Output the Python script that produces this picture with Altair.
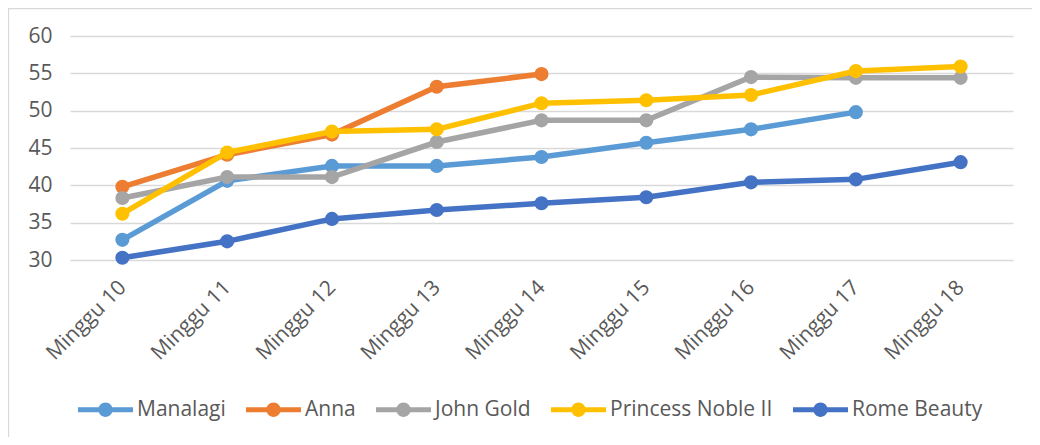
import altair as alt
import pandas as pd

weeks = ["Minggu 10", "Minggu 11", "Minggu 12", "Minggu 13", "Minggu 14",
         "Minggu 15", "Minggu 16", "Minggu 17", "Minggu 18"]
series = ["Manalagi", "Anna", "John Gold", "Princess Noble II", "Rome Beauty"]
colors = ["#5B9BD5", "#ED7D31", "#A5A5A5", "#FFC000", "#4472C4"]

manalagi = [32.7, 40.6, 42.6, 42.6, 43.8, 45.7, 47.5, 49.8]
anna = [39.8, 44.1, 46.8, 53.2, 54.9]
john_gold = [38.3, 41.1, 41.1, 45.8, 48.7, 48.7, 54.5, 54.4, 54.4]
princess = [36.2, 44.4, 47.2, 47.5, 51.0, 51.4, 52.1, 55.3, 55.9]
rome = [30.3, 32.5, 35.5, 36.7, 37.6, 38.4, 40.4, 40.8, 43.1]

rows = []
for i, (name, vals) in enumerate(zip(series, [manalagi, anna, john_gold, princess, rome])):
    for w, v in zip(weeks, vals):
        rows.append({"week": w, "series": name, "value": v, "order": i})
df = pd.DataFrame(rows)

FONT = "Open Sans"
TXT = "#595959"

x = alt.X("week:N", sort=weeks, title=None,
          scale=alt.Scale(padding=0.5),
          axis=alt.Axis(labelAngle=-45, labelAlign="right", labelBaseline="middle",
                        labelPadding=24, ticks=False, domain=False, grid=False,
                        labelFont=FONT, labelFontSize=21, labelColor=TXT))
y = alt.Y("value:Q", title=None,
          scale=alt.Scale(domain=[30, 60], nice=False, zero=False),
          axis=alt.Axis(values=[30, 35, 40, 45, 50, 55, 60], ticks=False, domain=False,
                        gridColor="#D9D9D9", gridWidth=1.3, labelPadding=18,
                        labelFont=FONT, labelFontSize=21, labelColor=TXT))
cscale = alt.Scale(domain=series, range=colors)

legend_path = ("M-1,-0.09H1V0.09H-1Z "
               "M0.26,0A0.26,0.26 0 1 1 -0.26,0A0.26,0.26 0 1 1 0.26,0Z")
legend = alt.Legend(orient="none", legendX=8, legendY=346,
                    direction="horizontal", title=None,
                    symbolType=legend_path, symbolSize=3025,
                    symbolStrokeWidth=0, symbolOpacity=1,
                    symbolFillColor="#5B9BD5",
                    labelFont=FONT, labelFontSize=21,
                    labelColor=TXT, labelOffset=4,
                    columnPadding=20, labelLimit=400)
color = alt.Color("series:N", scale=cscale, sort=series, legend=legend)

lines = alt.Chart(df).mark_line(strokeWidth=5.5).encode(
    x=x, y=y, color=color, order=alt.Order("order:Q"),
)
points = alt.Chart(df).mark_point(filled=True, size=200, opacity=1).encode(
    x=x, y=y, color=color, order=alt.Order("order:Q"),
)

border = alt.Chart(pd.DataFrame({"a": [0]})).mark_rect(
    fill=None, stroke="#D9D9D9", strokeWidth=1.3
).encode(x=alt.value(-61.5), x2=alt.value(1200), y=alt.value(-27.5), y2=alt.value(700))

layers = [border]
for name in series:
    layers.append(lines.transform_filter(alt.datum.series == name))
    layers.append(points.transform_filter(alt.datum.series == name))

chart = alt.layer(*layers).resolve_legend(color="shared").properties(
    width=943, height=224,
    autosize=alt.AutoSizeParams(type="none"),
    padding={"left": 62, "top": 28, "right": 19, "bottom": 177},
    background="white",
).configure_view(stroke=None)

chart.save("out.html", embed_options={"renderer": "svg", "actions": False})
